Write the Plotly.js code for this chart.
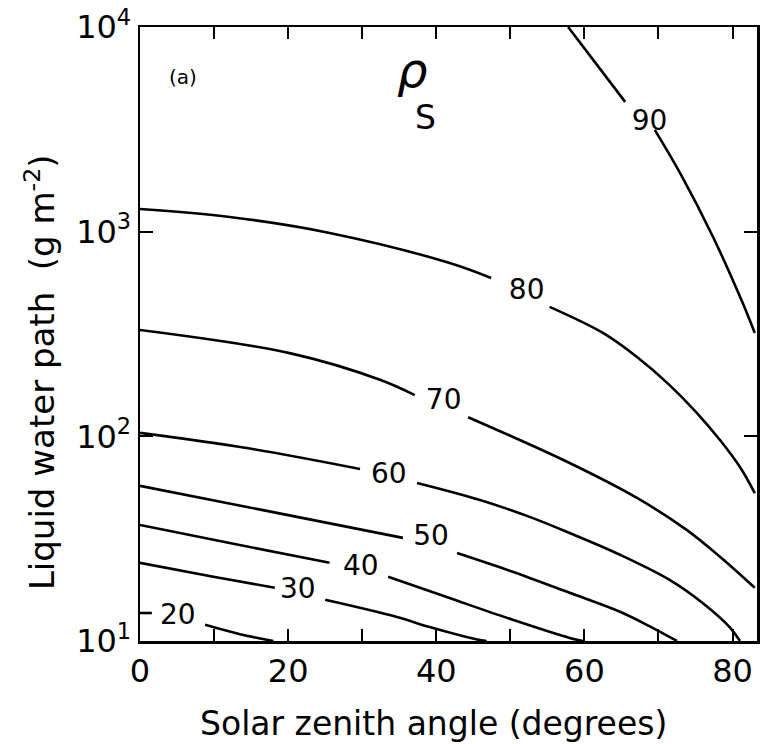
<!DOCTYPE html>
<html><head><meta charset="utf-8">
<script src="https://cdn.plot.ly/plotly-3.0.1.min.js"></script>
<style>html,body{margin:0;padding:0;background:#fff}#chart{width:760px;height:744px}</style>
</head><body><div id="chart"></div>
<script>
// Contour levels of rho_S (%)
const levels = [20, 30, 40, 50, 60, 70, 80, 90];

// Contour paths: solar zenith angle (deg) vs liquid water path (g m^-2)
// null marks the gap left for the in-line label
const angle20 = [0, 1.6, null, 8.8, 13.5, 18.0];
const lwp20   = [13.7, 13.7, null, 12.0, 10.8, 10];
const angle30 = [0, 9.9, 18.2, null, 25.0, 34.7, 39.1, 45.9, 46.8];
const lwp30   = [24.1, 20.6, 18.2, null, 15.9, 13.1, 11.7, 10.1, 10];
const angle40 = [0, 12.1, 25.6, null, 33.5, 41.4, 50.3, 58.0, 59.8];
const lwp40   = [36.9, 30.1, 24.1, null, 20.6, 16.4, 12.7, 10.35, 10];
const angle50 = [0, 16.6, 35.5, null, 42.8, 50.3, 58.0, 64.8, 69.2, 72.5];
const lwp50   = [57.3, 43.6, 31.9, null, 26.9, 21.8, 17.2, 13.9, 11.6, 10];
const angle60 = [0, 14.4, 29.7, null, 37.4, 45.9, 52.6, 58.0, 64.8, 71.5, 76.0, 79.6, 81.0];
const lwp60   = [104, 87.7, 69.3, null, 59.2, 48.9, 40.4, 33.7, 26.4, 19.9, 15.3, 11.7, 10];
const angle70 = [0, 20.2, 32.4, 37.1, null, 44.3, 58.0, 67.1, 73.8, 78.3, 83.0];
const lwp70   = [331, 255, 189, 159, null, 124, 74.1, 50.0, 34.9, 25.8, 18.2];
const angle80 = [0, 12.1, 25.6, 41.8, 47.4, null, 55.3, 62.5, 67.1, 71.5, 75.2, 78.3, 81.0, 83.0];
const lwp80   = [1291, 1180, 986, 703, 594, null, 429, 320, 244, 178, 130, 95.9, 70.8, 52.8];
const angle90 = [57.8, 65.5, null, 69.5, 72.9, 77.3, 81.2, 83.0];
const lwp90   = [10000, 4305, null, 3141, 1936, 953, 463, 320];

// Label positions (centre of each contour label)
const labelAngle = [5.1, 21.3, 29.8, 39.3, 33.6, 41.0, 52.2, 68.8];
const labelLwp   = [13.1, 17.6, 22.7, 31.9, 64.1, 147, 507, 3396];

// Axis ticks and titles
const xTickVals = [0, 20, 40, 60, 80];
const xTickText = ['0', '20', '40', '60', '80'];
const xMinorStep = 10;
const yTickVals = [10, 100, 1000, 10000];
const yTickText = ['10<sup>1</sup>', '10<sup>2</sup>', '10<sup>3</sup>', '10<sup>4</sup>'];
const xTitle = 'Solar zenith angle (degrees)';
const yTitle = 'Liquid water path  (g m<sup>-2</sup>)';

const FONT = 'DejaVu Sans, Liberation Sans, sans-serif';
const paths = [
  [angle20, lwp20], [angle30, lwp30], [angle40, lwp40], [angle50, lwp50],
  [angle60, lwp60], [angle70, lwp70], [angle80, lwp80], [angle90, lwp90]
];

const traces = paths.map((p, i) => ({
  type: 'scatter', mode: 'lines', x: p[0], y: p[1],
  name: String(levels[i]), connectgaps: false,
  line: {color: '#000', width: 2.6, shape: 'spline', smoothing: 1},
  showlegend: false, hoverinfo: 'skip'
}));

traces.push({
  type: 'scatter', mode: 'text', x: labelAngle, y: labelLwp,
  text: levels.map(String), textposition: 'middle center',
  textfont: {family: FONT, size: 28, color: '#000'},
  showlegend: false, hoverinfo: 'skip', cliponaxis: false
});

const axisCommon = {
  showline: true, linecolor: '#000', linewidth: 2.5, mirror: 'ticks',
  ticks: 'inside', tickcolor: '#000', tickwidth: 2,
  showgrid: false, zeroline: false,
  tickfont: {family: FONT, size: 32, color: '#000'}
};

const layout = {
  width: 760, height: 744,
  margin: {l: 140, r: 3, t: 27, b: 103},
  paper_bgcolor: '#fff', plot_bgcolor: '#fff',
  font: {family: FONT, color: '#000'},
  hovermode: false,
  xaxis: Object.assign({}, axisCommon, {
    range: [0, 83.3], tickmode: 'array', tickvals: xTickVals, ticktext: xTickText,
    ticklen: 12,
    minor: {tickmode: 'linear', tick0: 0, dtick: xMinorStep, ticks: 'inside',
            ticklen: 12, tickwidth: 2, tickcolor: '#000', showgrid: false}
  }),
  yaxis: Object.assign({}, axisCommon, {
    type: 'log', range: [1, 4], tickmode: 'array', tickvals: yTickVals, ticktext: yTickText,
    ticklen: 13
  }),
  annotations: [
    // axis titles, placed where the reference puts them
    {xref: 'paper', yref: 'paper', x: 0.475, y: -0.1345, xanchor: 'center', yanchor: 'middle',
     text: xTitle, showarrow: false, font: {family: FONT, size: 33, color: '#000'}},
    {xref: 'paper', yref: 'paper', x: -0.162, y: 0.438, xanchor: 'center', yanchor: 'middle',
     textangle: -90, text: yTitle, showarrow: false, font: {family: FONT, size: 34, color: '#000'}},
    // panel tag and quantity symbol
    {xref: 'paper', yref: 'paper', x: 0.070, y: 0.919, xanchor: 'center', yanchor: 'middle',
     text: '(a)', showarrow: false, font: {family: FONT, size: 20, color: '#000'}},
    {xref: 'paper', yref: 'paper', x: 0.441, y: 0.977, xanchor: 'center', yanchor: 'top',
     borderpad: 0, text: 'ρ', showarrow: false,
     font: {family: FONT, size: 48, color: '#000', style: 'italic'}},
    {xref: 'paper', yref: 'paper', x: 0.462, y: 0.886, xanchor: 'center', yanchor: 'top',
     borderpad: 0, text: 'S', showarrow: false, font: {family: FONT, size: 33, color: '#000'}}
  ]
};

Plotly.newPlot('chart', traces, layout, {displayModeBar: false, staticPlot: true});
</script>
</body></html>
